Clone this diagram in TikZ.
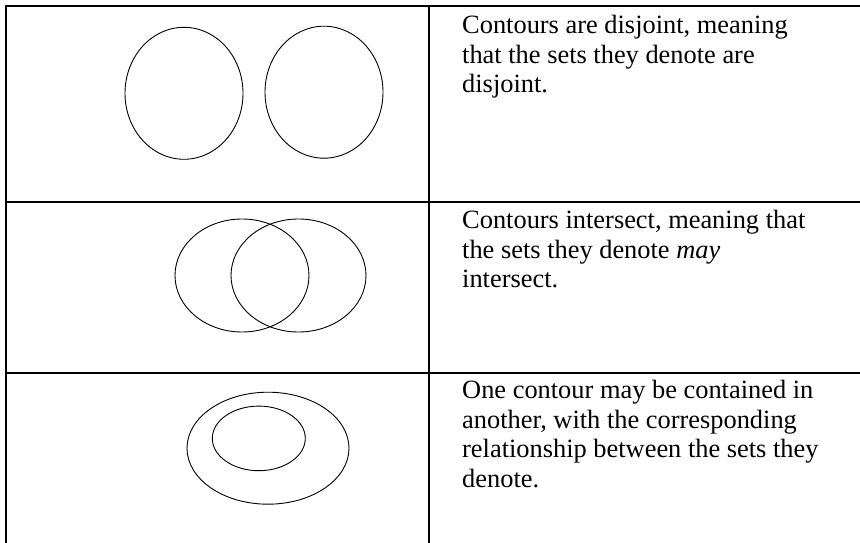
\documentclass[tikz,border=0pt]{standalone}
\usepackage{fontspec}
\setmainfont{Liberation Serif}
\begin{document}
\begin{tikzpicture}[x=1pt,y=-1pt,
  rule/.style={line width=2pt,line cap=rect},
  contour/.style={line width=0.9pt},
  cell/.style={anchor=north west,inner sep=0pt,align=left,
    font=\fontsize{26.4}{29.5}\selectfont}]
  \useasboundingbox (0,0) rectangle (860,543);
  % table rules (no right or bottom border)
  \draw[rule] (860,6) -- (6,6) -- (6,543);
  \draw[rule] (429,6) -- (429,543);
  \draw[rule] (6,201.7) -- (860,201.7);
  \draw[rule] (6,373.3) -- (860,373.3);
  % row 1: disjoint contours
  \draw[contour] (184,93.3) ellipse [x radius=59,y radius=66];
  \draw[contour] (324,92.2) ellipse [x radius=59,y radius=66];
  % row 2: intersecting contours
  \draw[contour] (242,275.5) ellipse [x radius=67,y radius=56.5];
  \draw[contour] (298.5,275.5) ellipse [x radius=67.5,y radius=56.5];
  % row 3: nested contours
  \draw[contour] (268,448.2) ellipse [x radius=81,y radius=56];
  \draw[contour] (258.8,438.4) ellipse [x radius=46.5,y radius=32.3];
  % descriptions
  \node[cell] (t1) at (462,15) {Contours are disjoint, meaning\\that the sets they denote are\\disjoint.};
  \node[cell] (t2) at (462,210) {Contours intersect, meaning that\\the sets they denote \textit{may}\\intersect.};
  \node[cell] (t3) at (462,380) {One contour may be contained in\\another, with the corresponding\\relationship between the sets they\\denote.};
\end{tikzpicture}
\end{document}
